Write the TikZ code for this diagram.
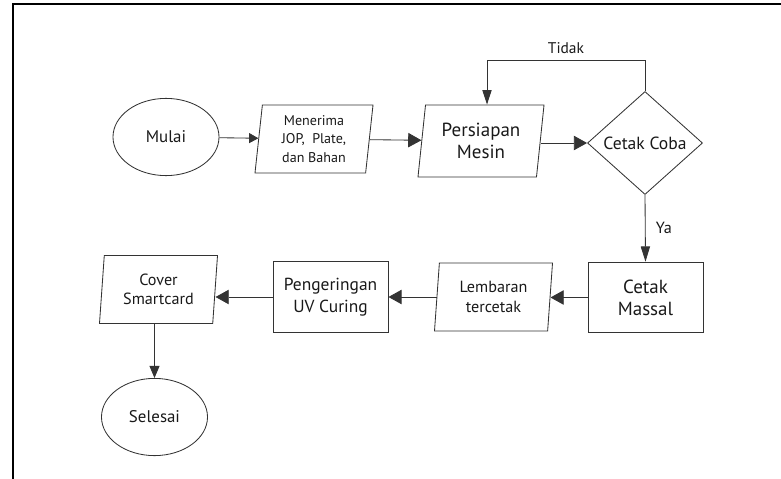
\documentclass[tikz,border=0pt]{standalone}
\usepackage{fontspec}
\setmainfont{PT Sans}
\usetikzlibrary{arrows.meta,shapes.geometric}
\tikzset{%
  >={Triangle[width=3.6mm,length=3.3mm]},
  % Specifications for style of nodes:
            base/.style = {draw=black!80, line width=0.6pt, text=black!90,
                           align=center, inner sep=0pt,
                           font=\fontsize{12}{15.3}\selectfont},
        terminal/.style = {base, ellipse, minimum width=2.65cm,
                           minimum height=1.93cm},
            data/.style = {base, trapezium, trapezium left angle=81,
                           trapezium right angle=99, trapezium stretches body,
                           minimum width=2.95cm, minimum height=1.7cm},
         process/.style = {base, rectangle, minimum width=2.875cm,
                           minimum height=1.77cm},
        decision/.style = {base, diamond, minimum width=2.875cm,
                           minimum height=2.575cm},
           small/.style = {font=\fontsize{10}{13}\selectfont},
          medium/.style = {font=\fontsize{11.5}{13.8}\selectfont},
             big/.style = {font=\fontsize{13.5}{15.5}\selectfont},
            flow/.style = {->, draw=black!80, line width=0.6pt},
}

\begin{document}
\begin{tikzpicture}[x=0.025cm, y=-0.025cm]
  % frame of the page
  \useasboundingbox (0,0) rectangle (781,479);
  \draw[line width=0.8pt] (781,4) -- (13,4) -- (13,479);
  % Specification of nodes (position, etc.)
  \node (mulai)   [terminal]       at (166,137)   {Mulai};
  \node (terima)  [data, small]    at (314,139)   {Menerima\\JOP,\ \ Plate,\\dan Bahan};
  \node (siap)    [data, big, trapezium left angle=78, trapezium right angle=102,
                   minimum width=3.15cm, minimum height=1.8cm]
                                   at (481,141)   {Persiapan\\Mesin};
  \node (coba)    [decision, font=\fontsize{12.5}{15}\selectfont]
                                   at (645,143)   {Cetak Coba};
  \node (massal)  [process, big]   at (645.5,297.5) {Cetak\\Massal};
  \node (lembar)  [data, medium]   at (493.5,297) {Lembaran\\tercetak};
  \node (kering)  [process, font=\fontsize{12.4}{15.5}\selectfont]
                                   at (330.5,297) {Pengeringan\\UV Curing};
  \node (cover)   [data, medium, font=\fontsize{11.5}{13.2}\selectfont]
                                   at (158.5,289.5) {Cover\\Smartcard};
  \node (selesai) [terminal]       at (154.5,417) {Selesai};
  \coordinate (balik) at (487,60);
  % Specification of lines between nodes specified above
  \draw[flow, >={Triangle[width=2.5mm,length=2.3mm]}] (mulai) -- (terima);
  \draw[flow]     (terima) -- (siap);
  \draw[flow]     (siap.east |- coba.west) -- (coba.west);
  \draw[flow, >={Triangle[width=2.3mm,length=3.6mm]}]
                  (coba.north) |- (balik)
                  node[pos=0.75, above=1pt, text=black!90,
                       font=\fontsize{11}{13}\selectfont] {Tidak}
                  -- (balik |- siap.north);
  \draw[flow, >={Triangle[width=2.3mm,length=3.8mm]}]
                  (coba.south) -- node[right=4pt, text=black!90,
                       font=\fontsize{11.5}{13}\selectfont] {Ya} (massal.north);
  \draw[flow]     (massal.west) -- (massal.west -| lembar.east);
  \draw[flow]     (lembar.west |- kering.east) -- (kering.east);
  \draw[flow]     (kering.west) -- (kering.west -| cover.east);
  \draw[flow, >={Triangle[width=2.5mm,length=3mm]}]
                  (cover.south -| selesai.north) -- (selesai.north);
\end{tikzpicture}
\end{document}
